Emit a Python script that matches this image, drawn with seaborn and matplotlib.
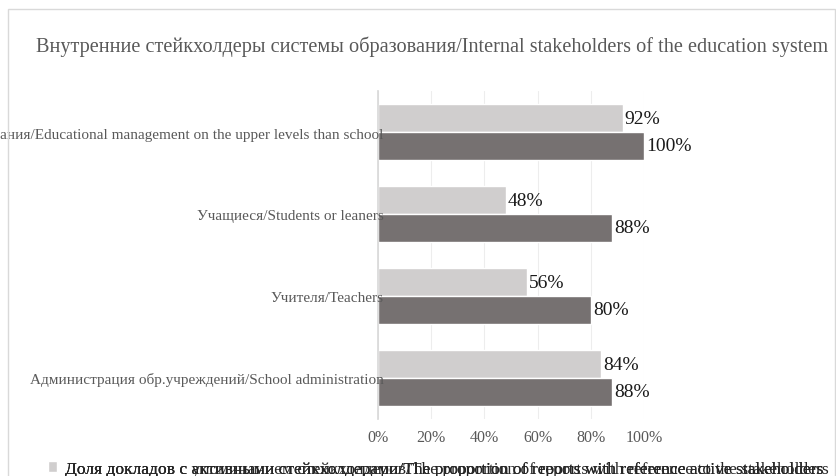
import matplotlib
matplotlib.use("Agg")
import matplotlib.pyplot as plt
import seaborn as sns
import pandas as pd
from matplotlib.patches import Rectangle

categories = [
    "Вышестоящие органы управления образования/Educational management on the upper levels than school",
    "Учащиеся/Students or leaners",
    "Учителя/Teachers",
    "Администрация обр.учреждений/School administration",
]
series_names = [
    "Доля докладов с упоминанием стейкхолдеров/The proportion of reports with reference to the stakeholders",
    "Доля докладов с активными стейкхолдерами/The proportion of reports with reference active stakeholders",
]
mentioned = [0.92, 0.48, 0.56, 0.84]
active = [1.00, 0.88, 0.80, 0.88]
xticks = [0, 0.2, 0.4, 0.6, 0.8, 1.0]
xtick_labels = ["0%", "20%", "40%", "60%", "80%", "100%"]
title = "Внутренние стейкхолдеры системы образования/Internal stakeholders of the education system"

df = pd.DataFrame({
    "category": categories * 2,
    "series": [series_names[0]] * 4 + [series_names[1]] * 4,
    "value": mentioned + active,
})

sns.set_theme(style="white")
plt.rcParams["font.family"] = ["Liberation Serif", "DejaVu Serif"]

fig = plt.figure(figsize=(8.37, 4.77), dpi=100)
ax = fig.add_axes([378 / 837, 1 - 420 / 477, (644 - 378) / 837, (420 - 92) / 477])

colors = ["#D0CECE", "#767171"]
sns.barplot(data=df, y="category", x="value", hue="series", order=categories,
            hue_order=series_names, palette=colors, orient="h", width=0.68,
            ax=ax, saturation=1, legend=True)

ax.set_xlim(0, 1.0)
ax.set_xticks(xticks)
ax.set_xticklabels(xtick_labels, fontsize=11.5, color="#595959")
ax.tick_params(axis="y", labelsize=11.0, labelcolor="#595959", length=0, pad=-4)
ax.tick_params(axis="x", length=0, pad=7)
ax.set_xlabel("")
ax.set_ylabel("")
for s in ["top", "right", "bottom"]:
    ax.spines[s].set_visible(False)
ax.spines["left"].set_color("#D9D9D9")
ax.grid(axis="x", color="#EDEDED", linewidth=0.8)
ax.set_axisbelow(True)
ax.yaxis.set_zorder(3)

for cont, vals in zip(ax.containers, [mentioned, active]):
    ax.bar_label(cont, labels=[f"{int(round(v * 100))}%" for v in vals],
                 padding=1.5, fontsize=14, color="#1a1a1a", clip_on=False)

handles, labels = ax.get_legend_handles_labels()
ax.get_legend().remove()
leg_kw = dict(loc="lower left", bbox_to_anchor=(32 / 837, -0.035), frameon=False,
              fontsize=12.6, handlelength=0.55, handleheight=0.55,
              handletextpad=0.45, labelcolor="#262626")
leg2 = fig.legend([handles[1]], [labels[1]], **leg_kw)
leg1 = fig.legend([handles[0]], [labels[0]], **leg_kw)
fig.add_artist(leg2)

fig.text(432 / 837, 1 - 47 / 477, title, ha="center", va="center",
         fontsize=14.6, color="#595959")

fig.add_artist(Rectangle((8 / 837, -0.05), (835 - 8) / 837, 1.05 - 10 / 477,
                         transform=fig.transFigure, fill=False,
                         edgecolor="#D9D9D9", linewidth=1))

fig.savefig("out.png", dpi=100, facecolor="white")
